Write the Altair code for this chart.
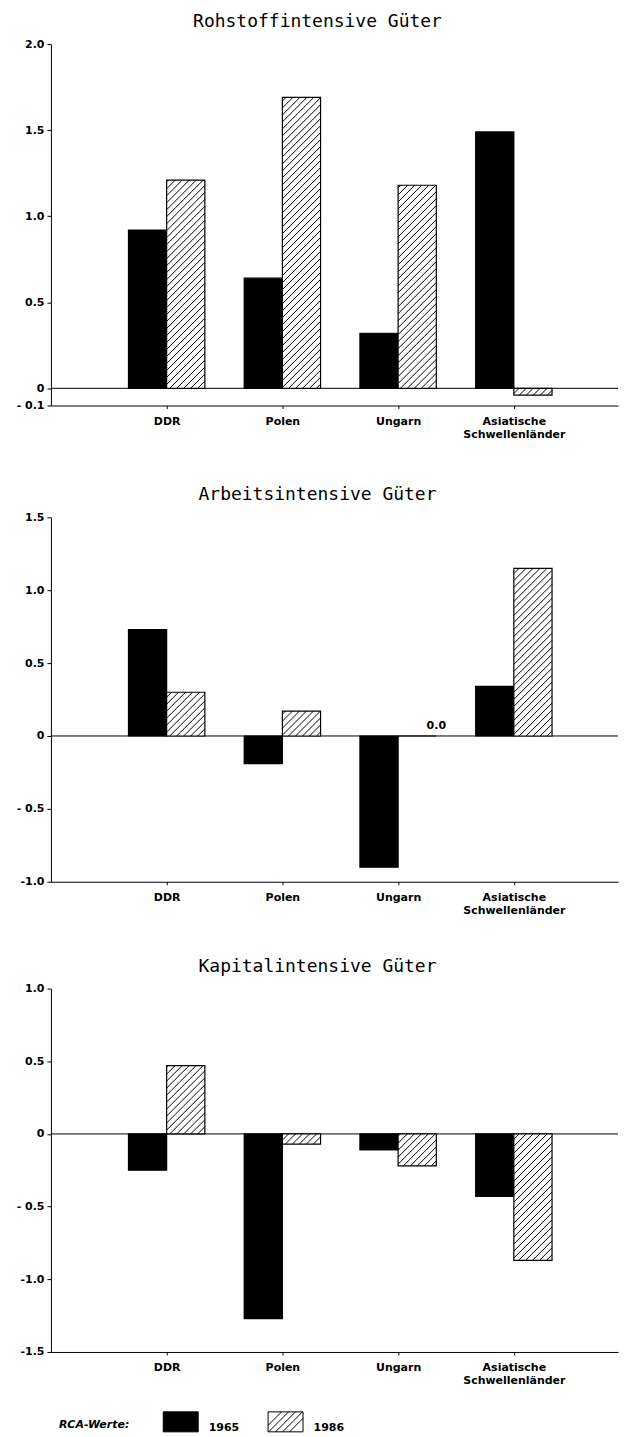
import json
import math
import altair as alt
import pandas as pd

# ---------------- data ----------------
categories = ["DDR", "Polen", "Ungarn", "Asiatische Schwellenländer"]
years = ["1965", "1986"]

rohstoff_1965 = [0.92, 0.64, 0.32, 1.49]
rohstoff_1986 = [1.21, 1.69, 1.18, -0.04]

arbeit_1965 = [0.73, -0.19, -0.90, 0.34]
arbeit_1986 = [0.30, 0.17, 0.00, 1.15]

kapital_1965 = [-0.25, -1.27, -0.11, -0.43]
kapital_1986 = [0.47, -0.07, -0.22, -0.87]

titles = ["Rohstoffintensive Güter", "Arbeitsintensive Güter", "Kapitalintensive Güter"]
y_domains = [(-0.1, 2.0), (-1.0, 1.5), (-1.5, 1.0)]
y_ticks = [[2.0, 1.5, 1.0, 0.5, 0, -0.1],
           [1.5, 1.0, 0.5, 0, -0.5, -1.0],
           [1.0, 0.5, 0, -0.5, -1.0, -1.5]]

# ---------------- layout / style ----------------
FONT = "DejaVu Sans"
TITLE_FONT = "DejaVu Sans Mono"
W = 568
X_MAX = 4.9
PX = W / X_MAX
HEIGHTS = [362, 365, 364]
BW = 0.33          # bar width in category steps
HATCH = 7.0        # horizontal hatch spacing in px
X_EXT = [61, 56, 30]


def segments(x0, x1, y0, y1, s):
    """45-degree hatch segments inside a rectangle (pixel units, y up)."""
    out = []
    k0 = math.ceil((y0 - x1) / s)
    k1 = math.floor((y1 - x0) / s)
    for k in range(k0, k1 + 1):
        c = k * s
        xa = max(x0, y0 - c)
        xb = min(x1, y1 - c)
        if xb - xa > 0.4:
            out.append((xa, xa + c, xb, xb + c))
    return out


def bars_df(v65, v86):
    rows = []
    for i, (c, a, b) in enumerate(zip(categories, v65, v86), start=1):
        rows.append(dict(cat=c, year=years[0], value=a, xa=i - BW, xb=i, base=0.0))
        rows.append(dict(cat=c, year=years[1], value=b, xa=i, xb=i + BW, base=0.0))
    return pd.DataFrame(rows)


def hatch_df(df, py):
    rows = []
    for r in df[df.year == years[1]].itertuples():
        x0, x1 = r.xa * PX, r.xb * PX
        y0, y1 = min(0, r.value) * py, max(0, r.value) * py
        for xa, ya, xb, yb in segments(x0, x1, y0, y1, HATCH):
            rows.append(dict(hx1=xa / PX, hy1=ya / py, hx2=xb / PX, hy2=yb / py))
    if not rows:
        rows = [dict(hx1=0.0, hy1=0.0, hx2=0.0, hy2=0.0)]
    return pd.DataFrame(rows)


# legend symbol: 35x20 rectangle with hatch lines (unit square coords)
hr = 0.5714
sym = "M-1,-{0}H1V{0}H-1Z".format(hr)
for xa, ya, xb, yb in segments(-1, 1, -hr, hr, HATCH / 17.5):
    sym += "M{:.3f},{:.3f}L{:.3f},{:.3f}".format(xa, -ya, xb, -yb)

names_js = json.dumps(categories, ensure_ascii=False)
x_label_expr = "split({}[round(datum.value) - 1], ' ')".format(names_js)
y_label_expr = ("datum.value == 0 ? '0' : "
                "replace(replace(format(datum.value, '.1f'), '\u2212', '-'), '-0', '- 0')")

series = [(rohstoff_1965, rohstoff_1986), (arbeit_1965, arbeit_1986), (kapital_1965, kapital_1986)]

panels = []
for p, ((v65, v86), title, dom, ticks, h) in enumerate(zip(series, titles, y_domains, y_ticks, HEIGHTS)):
    df = bars_df(v65, v86)
    py = h / (dom[1] - dom[0])
    hd = hatch_df(df, py)
    xs = alt.Scale(domain=[0, X_MAX], nice=False, zero=False)
    ys = alt.Scale(domain=list(dom), nice=False, zero=False)

    x_axis = alt.Axis(values=[1, 2, 3, 4], labelExpr=x_label_expr, grid=False, tickSize=3,
                      labelPadding=7, labelFont=FONT, labelFontWeight="bold", labelFontSize=11,
                      labelLineHeight=13, labelColor="black", domainColor="black", tickColor="black",
                      labelAngle=0, labelFlush=False, labelOverlap=False, labelBaseline="top",
                      minExtent=X_EXT[p], title=None)
    y_axis = alt.Axis(values=ticks, labelExpr=y_label_expr, grid=False, tickSize=4, labelPadding=3,
                      labelFont=FONT, labelFontWeight="bold", labelFontSize=11, labelColor="black",
                      domainColor="black", tickColor="black", minExtent=43, title=None,
                      labelFlush=False, labelOverlap=False)

    if p == 2:
        legend = alt.Legend(title="RCA-Werte:", orient="none", legendX=8, legendY=416,
                            direction="horizontal", titleOrient="left", titleFont=FONT,
                            titleFontSize=11, titleFontWeight="bold", titleFontStyle="italic",
                            titleColor="black", titlePadding=33, titleBaseline="top",
                            titleAnchor="middle",
                            symbolType=sym, symbolSize=1225, symbolStrokeColor="black",
                            symbolStrokeWidth=1, labelFont=FONT, labelFontSize=11,
                            labelFontWeight="bold", labelColor="black", labelOffset=10,
                            columnPadding=26, labelBaseline="top")
    else:
        legend = None

    fill = alt.Fill("year:N", scale=alt.Scale(domain=years, range=["black", "white"]), legend=legend)

    zero = alt.Chart(pd.DataFrame({"z": [0.0]})).mark_rule(color="black", strokeWidth=1).encode(
        y=alt.Y("z:Q", scale=ys, axis=y_axis))

    bars = alt.Chart(df).mark_bar(stroke="black", strokeWidth=1.2).encode(
        x=alt.X("xa:Q", scale=xs, axis=x_axis),
        x2="xb:Q",
        y=alt.Y("value:Q", scale=ys, axis=y_axis),
        y2="base:Q",
        fill=fill,
    )

    hatch = alt.Chart(hd).mark_rule(color="black", strokeWidth=1).encode(
        x=alt.X("hx1:Q", scale=xs, axis=x_axis),
        x2="hx2:Q",
        y=alt.Y("hy1:Q", scale=ys, axis=y_axis),
        y2="hy2:Q",
    )

    zlabel = alt.Chart(df).transform_filter(
        "datum.year == '1986' && datum.value == 0"
    ).mark_text(font=FONT, fontSize=11, fontWeight="bold", color="black", baseline="bottom",
                align="center", dy=-5).encode(
        x=alt.X("xb:Q", scale=xs, axis=x_axis),
        y=alt.Y("value:Q", scale=ys, axis=y_axis),
        text=alt.Text("value:Q", format=".1f"),
    )

    layer = alt.layer(zero, bars, hatch, zlabel).properties(
        width=W, height=h,
        title=alt.TitleParams(title, font=TITLE_FONT, fontSize=18, fontWeight="normal", color="black",
                              offset=7, dx=-17, anchor="middle"),
    )
    panels.append(layer)

chart = alt.vconcat(*panels, spacing=20).resolve_scale(fill="independent").properties(
    padding={"left": 0, "top": 4, "right": 0, "bottom": 0}
).configure(font=FONT).configure_view(strokeWidth=0, stroke="transparent")

chart.save("out.html", embed_options={"renderer": "svg", "actions": False})
